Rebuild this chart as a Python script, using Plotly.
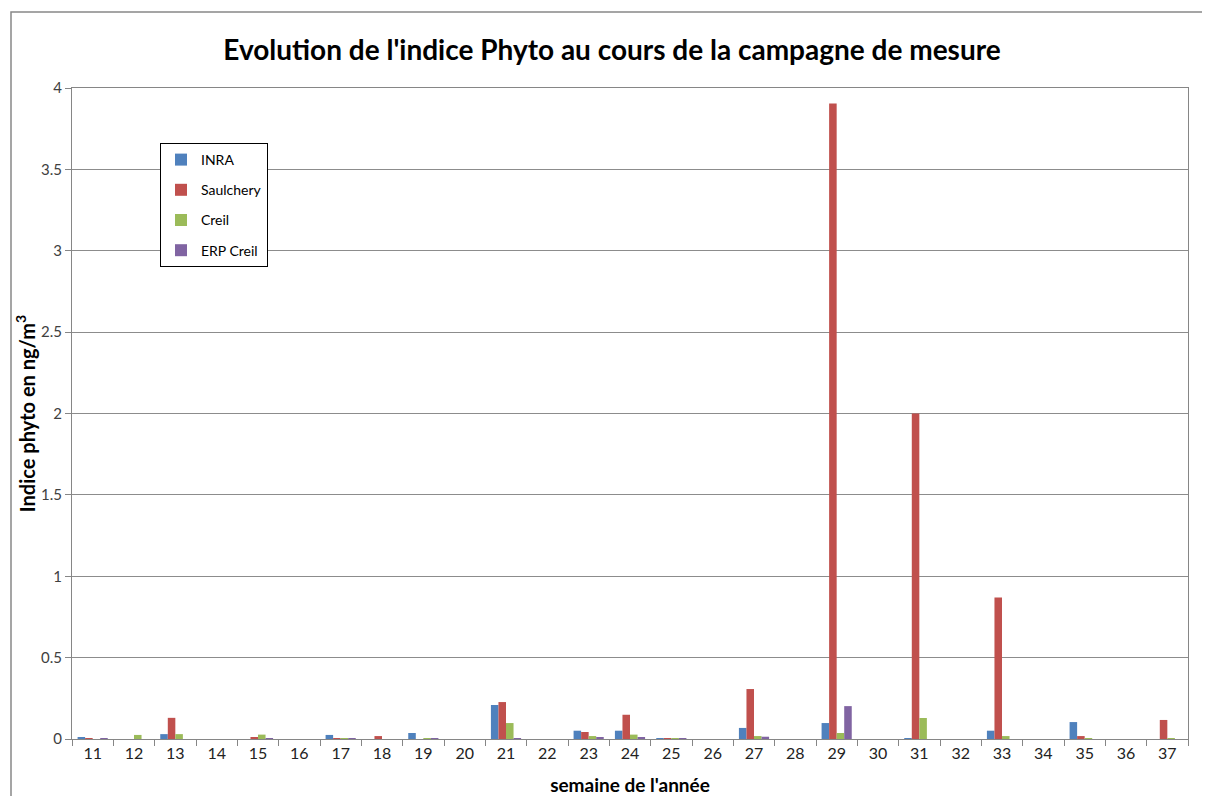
import plotly.graph_objects as go

semaines = [str(w) for w in range(11, 38)]

inra = [0.012, 0, 0.03, 0, 0, 0, 0.025, 0, 0.037, 0, 0.209, 0, 0.051, 0.051, 0.006, 0,
        0.068, 0, 0.098, 0, 0.006, 0, 0.051, 0, 0.104, 0, 0]
saulchery = [0.005, 0, 0.13, 0, 0.012, 0, 0.005, 0.018, 0, 0, 0.227, 0, 0.043, 0.149, 0.003, 0,
             0.307, 0, 3.905, 0, 2.0, 0, 0.87, 0, 0.018, 0, 0.117]
creil = [0, 0.025, 0.03, 0, 0.027, 0, 0.005, 0, 0.005, 0, 0.098, 0, 0.018, 0.027, 0.005, 0,
         0.018, 0, 0.037, 0, 0.129, 0, 0.018, 0, 0.006, 0, 0.005]
erp_creil = [0.003, 0, 0, 0, 0.006, 0, 0.004, 0, 0.005, 0, 0.006, 0, 0.008, 0.012, 0.005, 0,
             0.014, 0, 0.202, 0, 0, 0, 0, 0, 0, 0, 0]

series = [
    ("INRA", inra, "#4F81BD"),
    ("Saulchery", saulchery, "#C0504D"),
    ("Creil", creil, "#9BBB59"),
    ("ERP Creil", erp_creil, "#8064A2"),
]

FONT = "Lato, Calibri, sans-serif"

fig = go.Figure()
for i, (name, vals, col) in enumerate(series):
    fig.add_trace(go.Bar(
        x=semaines, y=vals, name=name, marker=dict(color=col, line=dict(width=0)),
        legendgroup=str(i),
    ))

# page has an 8px body margin: figure coordinates = page coordinates - 8
OFF = 8
W, H = 1202, 788
L, R, T, B = 72 - OFF, 22, 88 - OFF, 57
pw, ph = W - L - R, H - T - B

def px_x(p):
    return (p - OFF - L) / pw

def px_y(p):
    return 1 - (p - OFF - T) / ph

fig.update_layout(
    width=W, height=H,
    margin=dict(l=L, r=R, t=T, b=B),
    paper_bgcolor="white", plot_bgcolor="white",
    barmode="group", bargap=0.27, bargroupgap=0,
    font=dict(family=FONT, color="#404040"),
    title=dict(text="<b>Evolution de l'indice Phyto au cours de la campagne de mesure</b>",
               x=(612 - OFF) / W, xanchor="center", y=1 - (50 - OFF) / H, yanchor="middle",
               font=dict(size=28, color="black", family=FONT)),
    xaxis=dict(
        type="category", showgrid=False, ticks="outside", tickson="boundaries",
        ticklen=6, tickcolor="#868686", linecolor="#868686", linewidth=1,
        showline=True, mirror=True, automargin=False,
        tickfont=dict(size=16, color="#222222"),
        title=dict(text="<b>semaine de l'année</b>", font=dict(size=19, color="black"), standoff=18),
    ),
    yaxis=dict(
        range=[0, 4], dtick=0.5, showgrid=True, gridcolor="#8c8c8c", gridwidth=1,
        ticks="outside", ticklen=6, tickcolor="#868686",
        showline=True, linecolor="#868686", linewidth=1, mirror=True,
        zeroline=False, automargin=False,
        tickfont=dict(size=15, color="#404040"),
        title=dict(text="<b>Indice phyto en ng/m<sup>3</sup></b>", font=dict(size=20, color="black"), standoff=0),
    ),
    legend=dict(
        x=px_x(160), y=px_y(143), xanchor="left", yanchor="top",
        bgcolor="white", bordercolor="black", borderwidth=1,
        font=dict(size=14, color="black"), tracegroupgap=9,
        itemwidth=30,
    ),
    shapes=[dict(type="rect", xref="paper", yref="paper",
                 x0=px_x(11), x1=px_x(1230), y0=px_y(820), y1=px_y(12),
                 line=dict(color="#888888", width=1.5), fillcolor="rgba(0,0,0,0)", layer="below")],
    showlegend=True,
)

fig.write_html("out.html")
